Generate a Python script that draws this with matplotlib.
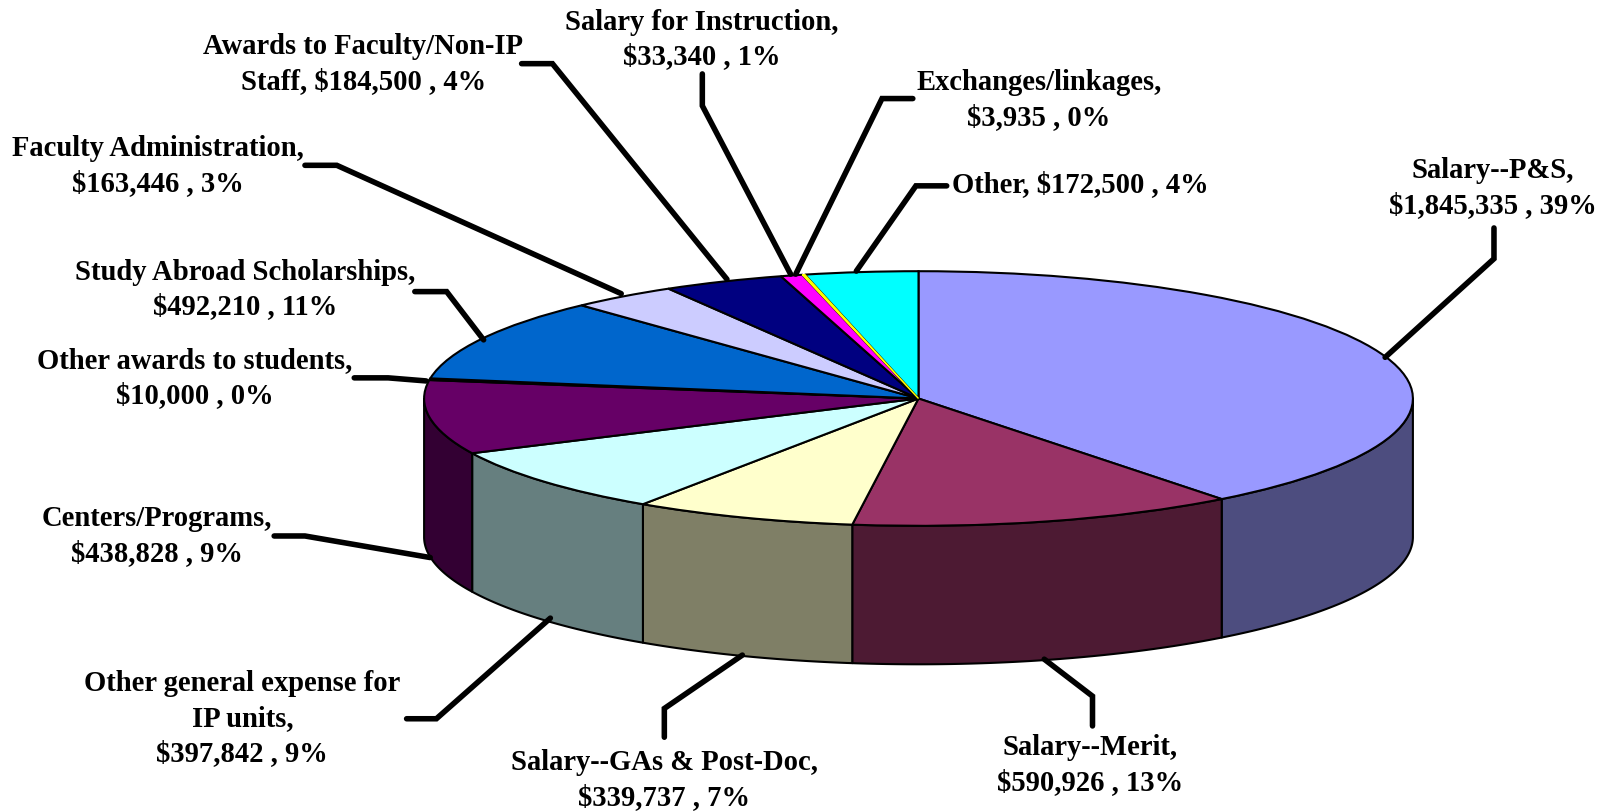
import numpy as np
import matplotlib
matplotlib.use("Agg")
import matplotlib.pyplot as plt

# ---- data ----
categories = ["Salary--P&S,\n", "Salary--Merit,\n", "Salary--GAs & Post-Doc,\n",
              "Other general expense for\nIP units,\n", "Centers/Programs,\n",
              "Other awards to students,\n", "Study Abroad Scholarships,\n",
              "Faculty Administration,\n", "Awards to Faculty/Non-IP\nStaff, ",
              "Salary for Instruction,\n", "Exchanges/linkages,\n", "Other, "]
values = [1845335, 590926, 339737, 397842, 438828, 10000,
          492210, 163446, 184500, 33340, 3935, 172500]

# ---- style ----
top_colors = ["#9999FF", "#993366", "#FFFFCC", "#CCFFFF", "#660066", "#FF8080",
              "#0066CC", "#CCCCFF", "#000080", "#FF00FF", "#FFFF00", "#00FFFF"]
side_colors = ["#4D4D7F", "#4D1A33", "#7F7F66", "#667F7F", "#330033", "#7F4040",
               "#003366", "#666680", "#000040", "#7F007F", "#7F7F00", "#007F7F"]

# ---- layout, in pixels of the 1610x811 figure ----
W, H = 1610, 811
CX, CY, RX, RY, DEPTH = 918.5, 398.5, 494.4, 127.3, 138.5
S = 1610 / 1568
label_pos = [(1454, 183.5), (1062, 745), (647, 760), (236, 700), (153, 522), (190, 368),
             (239, 282), (154, 162), (354, 62), (683, 38.5), (1012, 97), (1052, 180)]
leaders = [[(1455, 222), (1455, 252), (1349, 348)],
           [(1064, 707), (1064, 678), (1017, 642)],
           [(647, 718), (647, 690), (723, 638)],
           [(396, 700), (425, 700), (536, 602)],
           [(267, 522), (297, 522), (419, 543)],
           [(345, 368), (378, 368), (415, 371)],
           [(404, 284), (435, 284), (471, 331)],
           [(297, 161), (328, 161), (605, 286)],
           [(508, 62), (538, 62), (708, 272)],
           [(684, 72), (684, 103), (770, 267)],
           [(889, 96), (859, 96), (775, 267)],
           [(922, 181), (892, 181), (834, 264)]]

fig = plt.figure(figsize=(W / 100, H / 100), dpi=100, facecolor="white")

# pie axes: radius 1 in data units maps to an RX x RY ellipse
ax = fig.add_axes([0, 0, 1, 1])
wedges, _ = ax.pie(values, colors=top_colors, startangle=90, counterclock=False, radius=1,
                   wedgeprops=dict(edgecolor="black", linewidth=1.5, zorder=5))
# the sliver of the smallest slice would vanish under black outlines
wedges[10].set_edgecolor("#FFFF00")
wedges[10].set_linewidth(1.0)
wedges[10].set_zorder(6)
ax.set_aspect("auto")
ax.set_xlim(-CX / RX, (W - CX) / RX)
ax.set_ylim(-(H - CY) / RY, CY / RY)
ax.set_axis_off()

# visible side wall: front half of the ellipse, clockwise angle 90..270 from top
depth = DEPTH / RY
fractions = np.cumsum([0] + values) / sum(values) * 360
for a0, a1, c in zip(fractions[:-1], fractions[1:], side_colors):
    lo, hi = max(a0, 90), min(a1, 270)
    if hi <= lo:
        continue
    t = np.radians(np.linspace(lo, hi, 80))
    x, y = np.sin(t), np.cos(t)
    ax.fill(np.r_[x, x[::-1]], np.r_[y, y[::-1] - depth], facecolor=c,
            edgecolor="black", linewidth=1.5, joinstyle="round", zorder=2)

# overlay in figure pixels for leaders and labels
ov = fig.add_axes([0, 0, 1, 1], facecolor="none")
ov.set_xlim(0, W)
ov.set_ylim(H, 0)
ov.set_axis_off()

total = sum(values)
for name, v, (lx, ly), pts in zip(categories, values, label_pos, leaders):
    text = f"{name}${v:,} , {round(v / total * 100)}%"
    ov.text(lx * S, ly * S, text, ha="center", va="center", ma="center",
            family="Liberation Serif", fontweight="bold", fontsize=20.6,
            linespacing=1.38, color="black", parse_math=False)
    px, py = zip(*pts)
    ov.plot(np.array(px) * S, np.array(py) * S, color="black", linewidth=4.0,
            solid_capstyle="round", solid_joinstyle="miter")

fig.savefig("out.png", dpi=100)
